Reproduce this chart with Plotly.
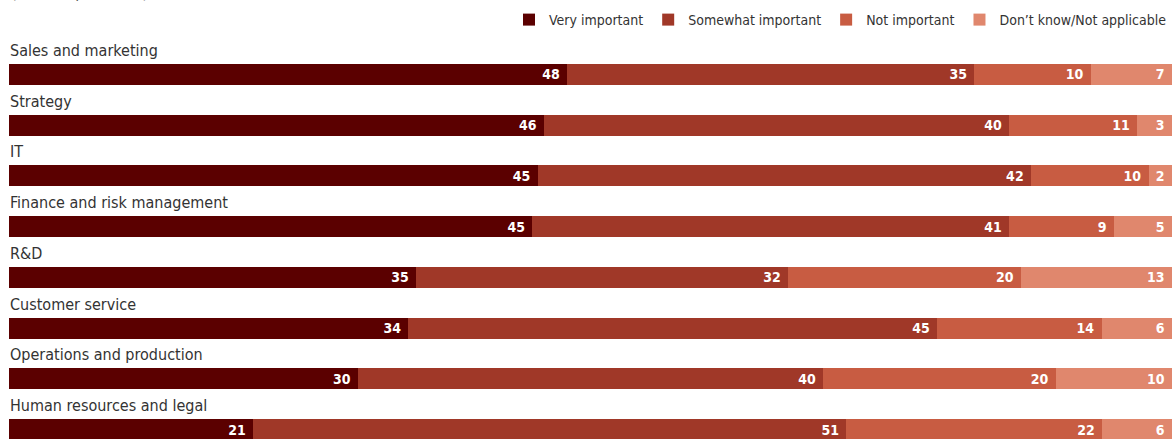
import plotly.graph_objects as go

# Survey share of respondents (%), by business function
categories = [
    "Sales and marketing",
    "Strategy",
    "IT",
    "Finance and risk management",
    "R&D",
    "Customer service",
    "Operations and production",
    "Human resources and legal",
]
very_important = [48, 46, 45, 45, 35, 34, 30, 21]
somewhat_important = [35, 40, 42, 41, 32, 45, 40, 51]
not_important = [10, 11, 10, 9, 20, 14, 20, 22]
dont_know = [7, 3, 2, 5, 13, 6, 10, 6]

series_names = ["Very important", "Somewhat important", "Not important", "Don\u2019t know/Not applicable"]
series_values = [very_important, somewhat_important, not_important, dont_know]
colors = ["#5B0000", "#A03828", "#C85C42", "#E0876D"]

FONT = "Liberation Sans Narrow, DejaVu Sans Condensed, Roboto, sans-serif"

fig = go.Figure()
for name, vals, col in zip(series_names, series_values, colors):
    fig.add_trace(go.Bar(
        y=categories,
        x=vals,
        name=name,
        orientation="h",
        marker=dict(color=col, line=dict(width=0)),
        text=[f"{v}\u00a0" for v in vals],
        textposition="inside",
        insidetextanchor="end",
        textangle=0,
        constraintext="none",
        textfont=dict(family=FONT, size=14, color="white", weight="bold"),
        width=0.414,
        hoverinfo="skip",
    ))

# Category labels sit above each bar
for cat in categories:
    fig.add_annotation(
        x=0, xref="paper", y=cat, yref="y",
        text=cat, showarrow=False,
        xanchor="left", yanchor="middle", yshift=24, xshift=-1,
        font=dict(family=FONT, size=16, color="#333333"),
    )

# Subtitle at the very top
fig.add_annotation(
    x=0, xref="paper", y=1, yref="paper",
    text="(% of respondents)", showarrow=False,
    xanchor="left", yanchor="middle", yshift=57,
    font=dict(family=FONT, size=16, color="#555555"),
)

fig.update_layout(
    width=1173, height=439,
    margin=dict(l=9, r=1, t=49, b=0),
    barmode="stack",
    barnorm="percent",
    paper_bgcolor="white",
    plot_bgcolor="white",
    font=dict(family=FONT, color="#333333"),
    showlegend=True,
    legend=dict(
        orientation="h",
        x=1, xanchor="right",
        yref="container", y=1 - 20 / 439, yanchor="middle",
        font=dict(family=FONT, size=14, color="#333333"),
        traceorder="normal",
        itemclick=False,
        itemwidth=30,
        bgcolor="rgba(0,0,0,0)",
    ),
    xaxis=dict(range=[0, 100], visible=False, fixedrange=True),
    yaxis=dict(
        range=[7.187, -0.5],
        visible=False,
        categoryorder="array",
        categoryarray=categories,
        fixedrange=True,
    ),
)

fig.write_html("out.html")
